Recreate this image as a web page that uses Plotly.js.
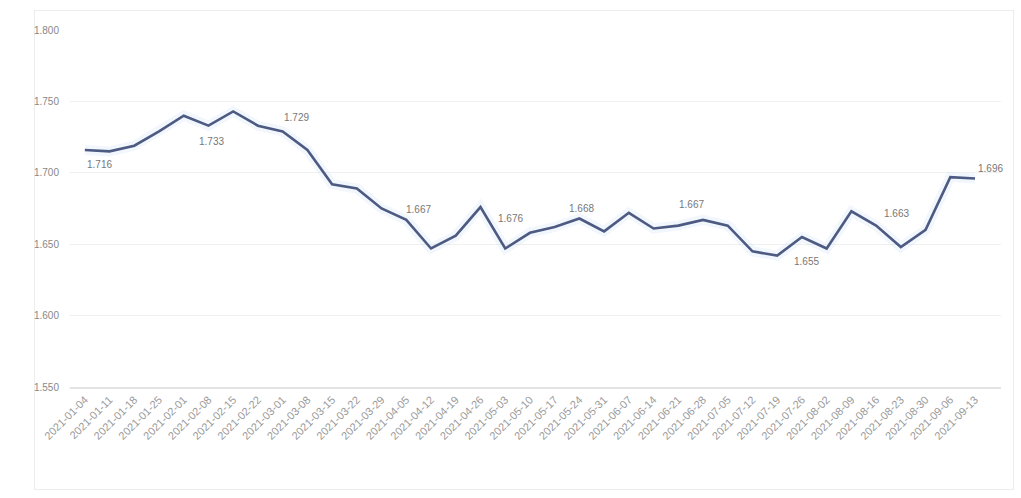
<!DOCTYPE html>
<html>
<head>
<meta charset="utf-8">
<script src="https://cdn.plot.ly/plotly-3.0.1.min.js"></script>
<style>
  html, body { margin: 0; padding: 0; background: #fff; }
  #frame { position: absolute; left: 34px; top: 10px; width: 978px; height: 478px; border: 1px solid #ededed; }
  #chart { position: absolute; left: 0; top: 0; width: 1021px; height: 498px; }
</style>
</head>
<body>
<div id="frame"></div>
<div id="chart"></div>
<script>
const dates = [
  "2021-01-04","2021-01-11","2021-01-18","2021-01-25","2021-02-01","2021-02-08","2021-02-15","2021-02-22",
  "2021-03-01","2021-03-08","2021-03-15","2021-03-22","2021-03-29","2021-04-05","2021-04-12","2021-04-19",
  "2021-04-26","2021-05-03","2021-05-10","2021-05-17","2021-05-24","2021-05-31","2021-06-07","2021-06-14",
  "2021-06-21","2021-06-28","2021-07-05","2021-07-12","2021-07-19","2021-07-26","2021-08-02","2021-08-09",
  "2021-08-16","2021-08-23","2021-08-30","2021-09-06","2021-09-13"
];
const values = [
  1.716,1.715,1.719,1.729,1.740,1.733,1.743,1.733,
  1.729,1.716,1.692,1.689,1.675,1.667,1.647,1.656,
  1.676,1.647,1.658,1.662,1.668,1.659,1.672,1.661,
  1.663,1.667,1.663,1.645,1.642,1.655,1.647,1.673,
  1.663,1.648,1.660,1.697,1.696
];
const tickVals = [1.55,1.60,1.65,1.70,1.75,1.80];
// indices of the points that carry a value label
const labelIdx = [0,5,8,13,16,20,25,29,32,36];
// label offsets in pixels (style only)
const labelDx = [15,3,14,12,30,2,-12,5,20,15];
const labelDy = [-15,-16,14,10,-11,10,15,-24,12,10];

const glow = {
  x: dates, y: values, type: "scatter", mode: "lines",
  line: { color: "rgba(175,205,240,0.16)", width: 10 },
  hoverinfo: "skip", showlegend: false
};
const main = {
  x: dates, y: values, type: "scatter", mode: "lines",
  line: { color: "#4d5a82", width: 2.6 },
  showlegend: false
};

const annotations = labelIdx.map((i, k) => ({
  x: dates[i], y: values[i], xref: "x", yref: "y",
  text: values[i].toFixed(3), showarrow: false,
  xshift: labelDx[k], yshift: labelDy[k],
  font: { family: "Arial, Liberation Sans, sans-serif", size: 10, color: "#777" }
}));

const layout = {
  width: 1021, height: 498,
  margin: { l: 70, r: 20, t: 30, b: 111 },
  paper_bgcolor: "rgba(0,0,0,0)", plot_bgcolor: "rgba(0,0,0,0)",
  font: { family: "Arial, Liberation Sans, sans-serif", size: 10, color: "#888" },
  annotations: annotations,
  xaxis: {
    type: "category", range: [-0.6, 37.05],
    tickangle: -45, tickfont: { size: 11, color: "#9a9a9a" },
    showgrid: false, showline: true, linecolor: "#e3e3e3", linewidth: 2,
    ticks: "", automargin: false
  },
  yaxis: {
    range: [1.55, 1.80], tickvals: tickVals, tickformat: ".3f",
    showgrid: true, gridcolor: "#f0f0f0", zeroline: false, showline: false,
    tickfont: { size: 10, color: "#888" }, ticks: "", ticklabelstandoff: 10, automargin: false
  }
};
Plotly.newPlot("chart", [glow, main], layout, { displayModeBar: false, staticPlot: true });
</script>
</body>
</html>
